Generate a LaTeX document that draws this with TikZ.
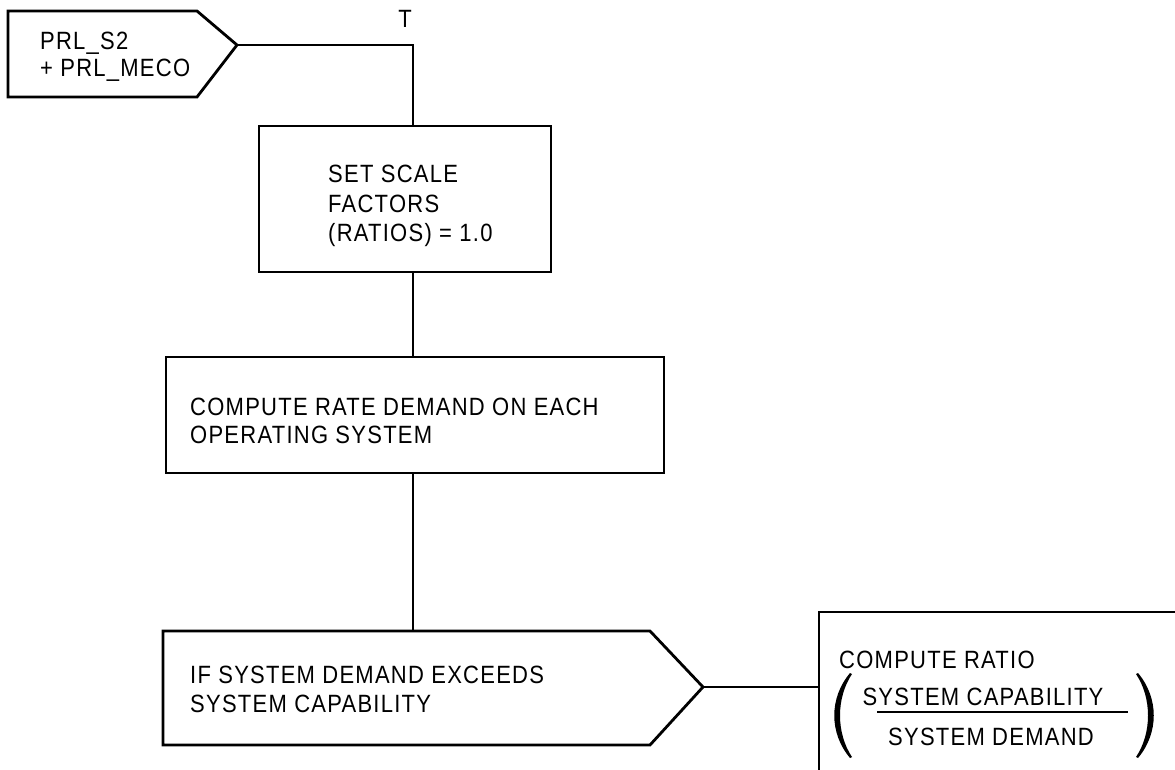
\documentclass[tikz,border=0pt]{standalone}
\usepackage{fontspec}
\setmainfont[FakeStretch=0.88,LetterSpace=5]{Liberation Sans}
\begin{document}
\begin{tikzpicture}[x=1pt,y=-1pt,
  shapeline/.style={line width=2.8pt, line join=miter},
  conn/.style={line width=2.2pt},
  lbl/.style={anchor=base west, inner sep=0pt, font=\fontsize{25}{28}\selectfont},
  boxnode/.style={draw, line width=2.8pt, inner sep=0pt, outer sep=0pt, anchor=north west}]
\useasboundingbox[fill=white] (0,0) rectangle (1175,770);

% shapes
\draw[shapeline] (8,11) -- (197,11) -- (237,45) -- (197,97) -- (8,97) -- cycle;
\coordinate (s0tip) at (237,45);
\node[boxnode, minimum width=292pt, minimum height=146pt] (b1) at (259,126) {};
\node[boxnode, minimum width=498pt, minimum height=116pt] (b2) at (166,357) {};
\draw[shapeline] (163,631) -- (650,631) -- (703,687) -- (650,745) -- (163,745) -- cycle;
\coordinate (dtop) at (413,631);
\coordinate (dtip) at (703,687);
\draw[shapeline] (1175,612) -- (819,612) -- (819,772);
\coordinate (b3left) at (819,687);

\coordinate (b1n) at (413,126);
\coordinate (b1s) at (413,272);
\coordinate (b2n) at (413,357);
\coordinate (b2s) at (413,473);

% connectors
\draw[conn] (s0tip) -| (b1n);
\draw[conn] (b1s) -- (b2n);
\draw[conn] (b2s) -- (dtop);
\draw[conn] (dtip) -- (b3left);

% texts
\node[lbl] (t0a) at (40,50) {PRL\_S2};
\node[lbl] (t0b) at (40,77) {+ PRL\_MECO};
\node[lbl, anchor=base] (tT) at (405,28) {T};
\node[lbl] (t1a) at (328,183) {SET SCALE};
\node[lbl] (t1b) at (328,212) {FACTORS};
\node[lbl] (t1c) at (328,241) {(RATIOS) = 1.0};
\node[lbl] (t2a) at (190,415) {COMPUTE RATE DEMAND ON EACH};
\node[lbl] (t2b) at (190,443) {OPERATING SYSTEM};
\node[lbl] (t3a) at (190,683) {IF SYSTEM DEMAND EXCEEDS};
\node[lbl] (t3b) at (190,712) {SYSTEM CAPABILITY};
\node[lbl] (t4a) at (839,668) {COMPUTE RATIO};
\node[lbl, anchor=base] (t4b) at (983,705) {SYSTEM CAPABILITY};
\node[lbl, anchor=base] (t4c) at (991,745) {SYSTEM DEMAND};

% fraction bar and parentheses
\draw[line width=2.6pt] (877,712) -- (1128,712);
\fill (850,673) .. controls (829,698) and (829,733) .. (850,758) -- (852,757) .. controls (836,733) and (836,698) .. (852,674) -- cycle;
\fill (1138,673) .. controls (1159,698) and (1159,733) .. (1138,758) -- (1136,757) .. controls (1152,733) and (1152,698) .. (1136,674) -- cycle;
\end{tikzpicture}
\end{document}
